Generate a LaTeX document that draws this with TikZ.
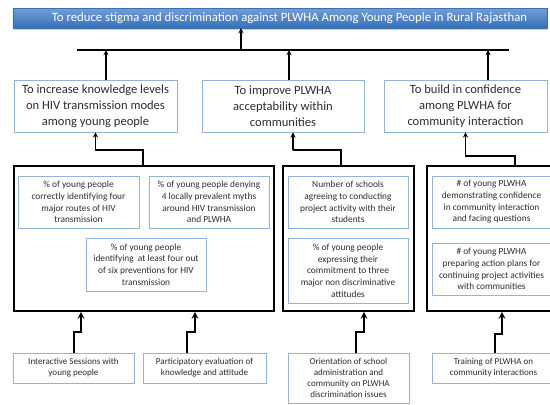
\documentclass[tikz,border=0pt]{standalone}
\usepackage{fontspec}
\setmainfont{Carlito}
\usepackage{tikz}
\usetikzlibrary{arrows, shadows}
\definecolor{boxblue}{RGB}{149,179,215}
\definecolor{bartop}{RGB}{112,158,220}
\definecolor{barbot}{RGB}{60,110,180}
\definecolor{ink}{RGB}{45,45,45}
\tikzstyle{link} = [line width=1.3bp,->,>=stealth]
\tikzstyle{feed} = [line width=2bp,->,>=stealth]
\tikzstyle{goalbar} = [rectangle, top color=bartop, bottom color=barbot, draw=barbot, text=white, minimum width=534bp, minimum height=20bp, drop shadow={opacity=0.35, shadow xshift=1bp, shadow yshift=-2bp}, font=\fontsize{12.8}{14}\selectfont]
\tikzstyle{objbox} = [rectangle, draw=boxblue, line width=0.9bp, fill=white, minimum height=52bp, text=ink, font=\fontsize{12.6}{16.2}\selectfont]
\tikzstyle{indgroup} = [rectangle, draw, line width=1.8bp, minimum height=145bp]
\tikzstyle{indbox} = [rectangle, draw=boxblue, line width=0.9bp, text=ink, font=\fontsize{9.4}{11.7}\selectfont]
\tikzstyle{actbox} = [rectangle, draw=boxblue, line width=0.9bp, text=ink, font=\fontsize{9.1}{11.2}\selectfont]
\tikzset{every node/.style={align=center, inner sep=1bp}}

\begin{document}
\begin{tikzpicture}[x=1bp, y=-1bp]
    \useasboundingbox (0,0) rectangle (550,404);

    \node (goal) [goalbar] at (280,18) {\hspace*{19bp}To reduce stigma and discrimination against PLWHA Among Young People in Rural Rajasthan};

    \node (obj1) [objbox, minimum width=163bp] at (95.5,106) {To increase knowledge levels\\on HIV transmission modes\\among young people};
    \node (obj2) [objbox, minimum width=162bp] at (283,106) {To improve PLWHA\\acceptability within\\communities};
    \node (obj3) [objbox, minimum width=163bp] at (465.5,106) {To build in confidence\\among PLWHA for\\community interaction};

    \coordinate (barl) at (77,50);
    \coordinate (barr) at (509,50);
    \coordinate (barm) at (241,50);
    \draw [line width=1.3bp] (barl) -- (barr);
    \draw [link] (barm) -- (barm |- goal.south);
    \draw [link] ([xshift=10.5bp]obj1.north) -- ([xshift=10.5bp]obj1.north |- barm);
    \draw [link] ([xshift=6bp]obj2.north) -- ([xshift=6bp]obj2.north |- barm);
    \draw [link] ([xshift=22.5bp]obj3.north) -- ([xshift=22.5bp]obj3.north |- barm);

    \node (ind1) [indgroup, minimum width=260bp] at (144,238.5) {};
    \node (ind2) [indgroup, minimum width=131bp] at (348.5,238.5) {};
    \node (ind3) [indgroup, minimum width=126bp] at (490,238.5) {};

    \node (a1) [indbox, minimum width=121bp, minimum height=52bp] at (78.5,202) {\% of young people\\correctly identifying four\\major routes of HIV\\transmission};
    \node (a2) [indbox, minimum width=120bp, minimum height=52bp] at (209,202) {\% of young people denying\\4 locally prevalent myths\\around HIV transmission\\and PLWHA};
    \node (a3) [indbox, minimum width=120bp, minimum height=53bp] at (146,264.5) {\% of young people\\identifying\ \ at least four out\\of six preventions for HIV\\transmission};
    \node (b1) [indbox, minimum width=120bp, minimum height=52bp] at (348,202) {Number of schools\\agreeing to conducting\\project activity with their\\students};
    \node (b2) [indbox, minimum width=120bp, minimum height=65bp] at (348,270.5) {\% of young people\\expressing their\\commitment to three\\major non discriminative\\attitudes};
    \node (c1) [indbox, minimum width=119bp, minimum height=52bp] at (491.5,202) {\# of young PLWHA\\demonstrating confidence\\in community interaction\\and facing questions};
    \node (c2) [indbox, minimum width=119bp, minimum height=52bp] at (491.5,269) {\# of young PLWHA\\preparing action plans for\\continuing project activities\\with communities};

    \draw [link] ([xshift=-1bp]ind1.north) |- (96,150) -| (obj1.south);
    \draw [link] ([xshift=-7.5bp]ind2.north) |- (293,150) -| ([xshift=10bp]obj2.south);
    \draw [link] ([xshift=25bp]ind3.north) |- (466,156) -| (obj3.south);

    \node (p1) [actbox, minimum width=121bp, minimum height=30bp] at (73.5,368) {Interactive Sessions with\\young people};
    \node (p2) [actbox, minimum width=123bp, minimum height=30bp] at (204.5,368) {Participatory evaluation of\\knowledge and attitude};
    \node (p3) [actbox, minimum width=121bp, minimum height=50bp] at (348.5,378) {Orientation of school\\administration and\\community on PLWHA\\discrimination issues};
    \node (p4) [actbox, minimum width=123bp, minimum height=30bp] at (493.5,368) {Training of PLWHA on\\community interactions};

    \draw [feed] (p1.north) -- ++(0,-21) -| ([xshift=-63bp]ind1.south);
    \draw [feed] ([xshift=-17.5bp]p2.north) -- ++(0,-21) -| ([xshift=51bp]ind1.south);
    \draw [feed] ([xshift=7.5bp]p3.north) -- ++(0,-21) -| ([xshift=15.5bp]ind2.south);
    \draw [feed] ([xshift=1.5bp]p4.north) -- ++(0,-19) -| ([xshift=12bp]ind3.south);
\end{tikzpicture}
\end{document}
